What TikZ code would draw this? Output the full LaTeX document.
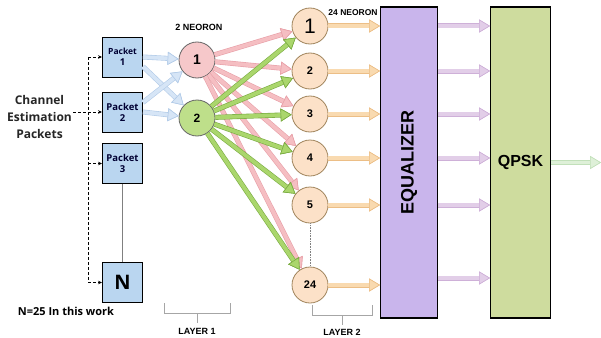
\documentclass[tikz,border=0pt]{standalone}
\usepackage{fontspec}
\setmainfont{Liberation Sans}
\newfontfamily\labelfont{Open Sans}
\usepackage{tikz}
\usetikzlibrary{arrows.meta,positioning,calc}
\usepackage{xcolor}
\definecolor{packetblue}{RGB}{186,214,240}
\definecolor{bluefill}{RGB}{214,229,246}
\definecolor{blueline}{RGB}{178,203,232}
\definecolor{inpink}{RGB}{246,200,202}
\definecolor{ingreen}{RGB}{190,223,138}
\definecolor{hidfill}{RGB}{252,225,200}
\definecolor{hidline}{RGB}{160,132,92}
\definecolor{pinkfill}{RGB}{245,190,194}
\definecolor{pinkline}{RGB}{232,160,168}
\definecolor{greenfill}{RGB}{170,214,108}
\definecolor{greenline}{RGB}{122,172,66}
\definecolor{orangefill}{RGB}{249,218,176}
\definecolor{orangeline}{RGB}{236,190,134}
\definecolor{eqpurple}{RGB}{201,181,236}
\definecolor{qpskgreen}{RGB}{206,220,158}
\definecolor{purplefill}{RGB}{226,206,232}
\definecolor{purpleline}{RGB}{206,176,216}
\definecolor{outfill}{RGB}{222,240,216}
\definecolor{outline}{RGB}{194,224,186}

\begin{document}
\begin{tikzpicture}[x=1pt, y=-1pt,
      tag/.style={inner sep=1pt, font=\bfseries\fontsize{9}{10}\selectfont},
      pkt/.style={draw, line width=0.9pt, fill=packetblue, minimum width=40pt,
                  minimum height=40pt, inner sep=1pt, align=center,
                  text=blue!20!black,
                  font=\labelfont\bfseries\fontsize{9.5}{11}\selectfont},
      neuron/.style={circle, draw=#1, line width=0.8pt, minimum size=36pt,
                     inner sep=0pt},
      block/.style={draw, line width=0.9pt, minimum width=57pt,
                    minimum height=310pt, inner sep=0pt},
      fat/.style 2 args={draw=#1, line width=3.8pt,
          -{Triangle[length=11pt,width=13pt,line width=0.6pt,color=#2,fill=#1]},
          preaction={draw=#2, line width=5pt,
          -{Triangle[length=11pt,width=13pt,line width=0.6pt,color=#2,fill=#1]}}},
      dasharr/.style={line width=0.8pt, dash pattern=on 3pt off 2pt,
                      -{Stealth[length=4pt,width=3.5pt]}},
      bracket/.style={draw=gray!70, line width=0.7pt}
    ]
    \useasboundingbox (0,0) rectangle (601,337);

    % input packets
    \node[pkt] (p1) at (122.5,57) {\fontsize{8.5}{10}\selectfont Packet\\1};
    \node[pkt] (p2) at (122.5,112) {Packet\\2};
    \node[pkt] (p3) at (122.5,163.5) {Packet\\3};
    \node[pkt, text=black, font=\labelfont\bfseries\fontsize{20}{22}\selectfont] (pN)
          at (122.5,282.5) {N};
    \draw[gray, line width=0.6pt] (p3.south) -- (pN.north);

    \node[align=center, inner sep=1pt, text=black!85,
          font=\labelfont\bfseries\fontsize{12}{17}\selectfont] (chan)
          at (39.5,117) {Channel\\Estimation\\Packets};
    \node[font=\labelfont\bfseries\fontsize{11}{12}\selectfont] (note)
          at (66,311) {N=25 In this work};

    \coordinate (bx) at (88,0);
    \foreach \p/\b in {p1/b1,p2/b2,p3/b3,pN/b4}{
      \coordinate (\b) at (bx |- \p.west);
      \draw[dasharr] (\b) -- (\p.west);
    }
    \draw[line width=0.8pt, dash pattern=on 3pt off 2pt] (b1) -- (b4);
    \draw[line width=0.8pt, dash pattern=on 3pt off 2pt] (chan.east |- b2) -- (b2);

    % layer 1
    \node[neuron=gray!80!black, fill=inpink, font=\bfseries\fontsize{14}{14}\selectfont]
          (n1) at (197,60) {1};
    \node[neuron=gray!80!black, fill=ingreen, font=\bfseries\fontsize{12}{12}\selectfont]
          (n2) at (197,118) {2};
    \node[tag] (lab1) at (199,27) {2 NEORON};

    \draw[fat={bluefill}{blueline}] (p1.east) -- (n1);
    \draw[fat={bluefill}{blueline}] (p1.-25) -- (n2);
    \draw[fat={bluefill}{blueline}] (p2.25) -- (n1);
    \draw[fat={bluefill}{blueline}] (p2.east) -- (n2);

    % layer 2
    \node[neuron=hidline, fill=hidfill, font=\mdseries\fontsize{21}{21}\selectfont]
          (m1) at (310,26) {1};
    \foreach \i/\t/\y in {2/2/71,3/3/114,4/4/158,5/5/205,6/24/285}{
      \node[neuron=hidline, fill=hidfill, font=\bfseries\fontsize{11}{11}\selectfont]
            (m\i) at (310,\y) {\t};
    }
    \node[tag, font=\bfseries\fontsize{8.5}{9}\selectfont] (lab2) at (353,13) {24 NEORON};
    \draw[gray, densely dotted, line width=0.6pt] (m5) -- (m6);

    \foreach \i in {1,...,6}{ \draw[fat={pinkfill}{pinkline}] (n1) -- (m\i); }
    \foreach \i in {1,...,6}{ \draw[fat={greenfill}{greenline}] (n2) -- (m\i); }

    % equalizer and qpsk
    \node[block, fill=eqpurple] (eq) at (409,162.5) {};
    \node[rotate=90, font=\bfseries\fontsize{18}{18}\selectfont] (eqlab) at (eq) {EQUALIZER};
    \node[block, fill=qpskgreen, minimum width=60pt] (qpsk) at (520.5,162.5) {};
    \node[font=\bfseries\fontsize{16}{16}\selectfont] (qlab) at (qpsk) {QPSK};
    \draw[line width=2.2pt] (eq.north west) -- (eq.north east);
    \draw[line width=2.2pt] (eq.south west) -- (eq.south east);
    \draw[line width=2pt] (qpsk.north west) -- (qpsk.north east);
    \draw[line width=2pt] (qpsk.south west) -- (qpsk.south east);

    \foreach \i in {1,...,6}{
      \draw[fat={orangefill}{orangeline}] (m\i.east) -- (eq.west |- m\i);
    }
    \foreach \i in {1,...,5}{
      \draw[fat={purplefill}{purpleline}] (eq.east |- m\i) -- (qpsk.west |- m\i);
    }
    \draw[fat={purplefill}{purpleline}] ([yshift=7pt]eq.east |- m6)
          -- ([yshift=7pt]qpsk.west |- m6);
    \coordinate (out) at (601,162.5);
    \draw[fat={outfill}{outline}] (qpsk.east) -- (out);

    % layer brackets
    \draw[bracket] (164,303) |- (230,313) -- (230,303);
    \draw[bracket] (197,313) -- (197,323);
    \node[tag] (lay1) at (197,331) {LAYER 1};
    \draw[bracket] (312,305) |- (372,315) -- (372,305);
    \draw[bracket] (342,315) -- (342,325);
    \node[tag] (lay2) at (342,332) {LAYER 2};
  \end{tikzpicture}
\end{document}
